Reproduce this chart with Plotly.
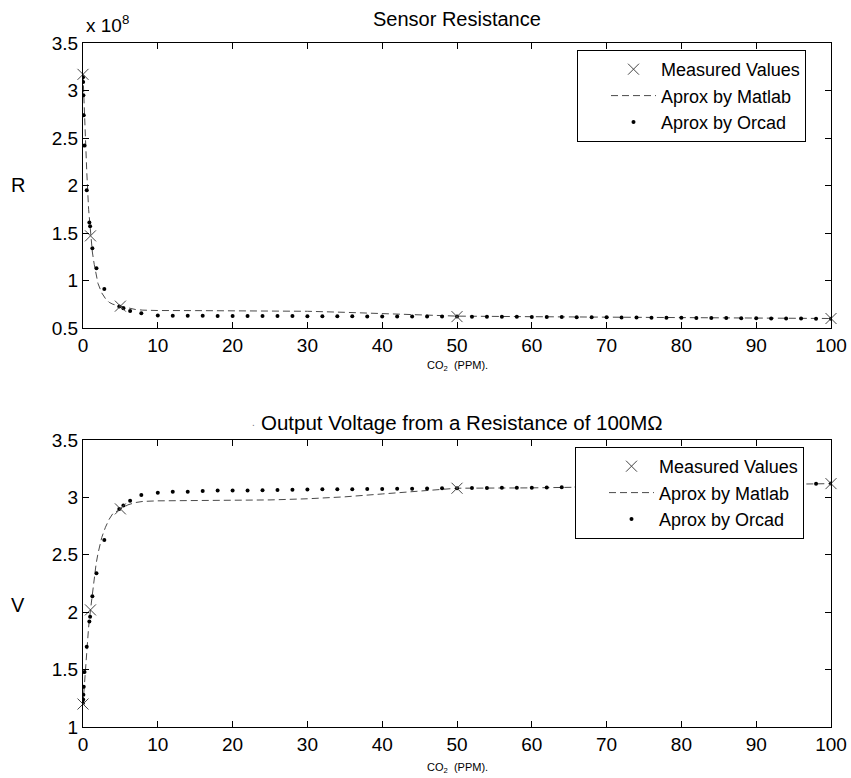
import plotly.graph_objects as go

# ---------------- data ----------------
meas_x = [0, 1, 5, 50, 100]
meas_R = [3.17e8, 1.47e8, 0.73e8, 0.62e8, 0.60e8]
meas_V = [1.20, 2.02, 2.90, 3.08, 3.12]

matlab_x = [0, 0.25, 0.5, 0.75, 1, 1.25, 1.5, 1.75, 2, 2.5, 3, 3.5, 4, 5, 6, 7, 8,
            10, 15, 20, 25, 30, 35, 40, 45, 50, 60, 70, 80, 90, 100]
matlab_R = [3.17e8, 2.60e8, 2.15e8, 1.75e8, 1.47e8, 1.30e8, 1.17e8, 1.05e8, 0.97e8,
            0.87e8, 0.81e8, 0.77e8, 0.75e8, 0.73e8, 0.71e8, 0.695e8, 0.688e8,
            0.684e8, 0.683e8, 0.683e8, 0.681e8, 0.676e8, 0.665e8, 0.652e8, 0.638e8,
            0.625e8, 0.619e8, 0.614e8, 0.609e8, 0.604e8, 0.600e8]
matlab_V = [1.20, 1.45, 1.68, 1.87, 2.02, 2.16, 2.30, 2.42, 2.51, 2.65, 2.74, 2.81,
            2.86, 2.90, 2.935, 2.955, 2.965, 2.970, 2.972, 2.974, 2.978, 2.988, 3.005,
            3.03, 3.055, 3.08, 3.083, 3.09, 3.10, 3.11, 3.12]

orcad_x = [0, 0.02, 0.05, 0.1, 0.2, 0.5, 0.85, 0.95, 1.25, 1.8, 2.85, 4.85, 5.4, 6.3, 7.8,
           10, 12, 14, 16, 18, 20, 22, 24, 26, 28, 30, 32, 34, 36, 38, 40, 42, 44, 46, 48,
           50, 52, 54, 56, 58, 60, 62, 64, 66, 68, 70, 72, 74, 76, 78, 80, 82, 84, 86, 88,
           90, 92, 94, 96, 98, 100]
orcad_R = [3.14e8, 3.09e8, 2.95e8, 2.74e8, 2.42e8, 1.95e8, 1.61e8, 1.57e8, 1.34e8, 1.13e8,
           0.91e8, 0.725e8, 0.708e8, 0.68e8, 0.655e8,
           0.632e8, 0.630e8, 0.629e8, 0.628e8, 0.627e8, 0.627e8, 0.626e8, 0.626e8, 0.625e8,
           0.625e8, 0.624e8, 0.624e8, 0.623e8, 0.623e8, 0.622e8, 0.622e8, 0.621e8, 0.621e8,
           0.620e8, 0.620e8, 0.620e8, 0.619e8, 0.619e8, 0.618e8, 0.618e8, 0.617e8, 0.616e8,
           0.615e8, 0.614e8, 0.613e8, 0.612e8, 0.611e8, 0.610e8, 0.609e8, 0.608e8, 0.607e8,
           0.606e8, 0.605e8, 0.604e8, 0.603e8, 0.602e8, 0.601e8, 0.600e8, 0.599e8, 0.598e8,
           0.597e8]
orcad_V = [1.21, 1.24, 1.28, 1.35, 1.48, 1.70, 1.92, 1.96, 2.14, 2.34, 2.63, 2.90, 2.93,
           2.97, 3.02,
           3.04, 3.05, 3.05, 3.055, 3.06, 3.06, 3.06, 3.062, 3.064, 3.066, 3.068, 3.07,
           3.071, 3.072, 3.073, 3.074, 3.075, 3.076, 3.078, 3.079, 3.08, 3.081, 3.082,
           3.083, 3.084, 3.085, 3.087, 3.089, 3.091, 3.093, 3.095, 3.097, 3.099, 3.101,
           3.103, 3.105, 3.107, 3.108, 3.109, 3.11, 3.112, 3.114, 3.115, 3.117, 3.118, 3.12]

x_ticks = [0, 10, 20, 30, 40, 50, 60, 70, 80, 90, 100]
R_ticks = [0.5e8, 1e8, 1.5e8, 2e8, 2.5e8, 3e8, 3.5e8]
R_ticktext = ["0.5", "1", "1.5", "2", "2.5", "3", "3.5"]
V_ticks = [1, 1.5, 2, 2.5, 3, 3.5]
V_ticktext = ["1", "1.5", "2", "2.5", "3", "3.5"]

# ---------------- layout helpers ----------------
W, H = 851, 778
ML, MR, MT, MB = 83, 20, 42, 51
PW, PH = W - ML - MR, H - MT - MB


def py(p):
    return (H - MB - p) / PH


def px(p):
    return (p - ML) / PW


FONT = "Liberation Sans, Arial, sans-serif"

fig = go.Figure()

for i, (yv_m, yv_l, yv_o) in enumerate([(meas_R, matlab_R, orcad_R), (meas_V, matlab_V, orcad_V)]):
    xa = "x" if i == 0 else "x2"
    ya = "y" if i == 0 else "y2"
    lg = "legend" if i == 0 else "legend2"
    fig.add_trace(go.Scatter(
        x=matlab_x, y=yv_l, mode="lines", name="Aprox by Matlab",
        line=dict(color="#4a4a4a", width=1, dash="7px,4px"),
        xaxis=xa, yaxis=ya, legend=lg, legendrank=2))
    fig.add_trace(go.Scatter(
        x=orcad_x, y=yv_o, mode="markers", name="Aprox by Orcad",
        marker=dict(symbol="circle", size=4, color="black"),
        xaxis=xa, yaxis=ya, legend=lg, legendrank=3))
    fig.add_trace(go.Scatter(
        x=meas_x, y=yv_m, mode="markers", name="Measured Values",
        marker=dict(symbol="x-thin-open", size=11, color="#444444",
                    line=dict(width=1, color="#444444")),
        xaxis=xa, yaxis=ya, legend=lg, legendrank=1, cliponaxis=False))

axis_common = dict(showline=True, linecolor="black", linewidth=1, mirror="ticks",
                   ticks="inside", ticklen=6, tickcolor="black", showgrid=False,
                   zeroline=False, automargin=False,
                   tickfont=dict(family=FONT, size=19, color="black"))

legend_common = dict(xanchor="left", yanchor="top", bgcolor="white",
                     bordercolor="black", borderwidth=1, indentation=28, itemwidth=45,
                     font=dict(family=FONT, size=18, color="black"))

fig.update_layout(
    width=W, height=H,
    margin=dict(l=ML, r=MR, t=MT, b=MB, autoexpand=False),
    paper_bgcolor="white", plot_bgcolor="white",
    font=dict(family=FONT, color="black"),
    xaxis=dict(domain=[0, 1], range=[0, 100], tickvals=x_ticks, anchor="y", **axis_common),
    yaxis=dict(domain=[py(328), py(43)], range=[0.5e8, 3.5e8], tickvals=R_ticks,
               ticktext=R_ticktext, anchor="x", **axis_common),
    xaxis2=dict(domain=[0, 1], range=[0, 100], tickvals=x_ticks, anchor="y2", **axis_common),
    yaxis2=dict(domain=[0, py(440)], range=[1, 3.5], tickvals=V_ticks,
                ticktext=V_ticktext, anchor="x2", **axis_common),
    legend=dict(x=px(577), y=py(50), **legend_common),
    legend2=dict(x=px(575), y=py(447), **legend_common),
    showlegend=True,
)

ann = [
    dict(text="Sensor Resistance", x=0.5, y=py(19), size=20),
    dict(text="Output Voltage from a Resistance of 100M\u03a9", x=px(462), y=py(422), size=20.5),
    dict(text="CO<sub>2</sub>  (PPM).", x=0.5, y=py(366), size=11),
    dict(text="CO<sub>2</sub>  (PPM).", x=0.5, y=py(768), size=11),
    dict(text="R", x=px(18), y=py(185), size=20),
    dict(text="V", x=px(18), y=py(605), size=20),
]
for a in ann:
    fig.add_annotation(text=a["text"], x=a["x"], y=a["y"], xref="paper", yref="paper",
                       xanchor="center", yanchor="middle", showarrow=False,
                       font=dict(family=FONT, size=a["size"], color="black"))

fig.add_annotation(text="x 10<sup>8</sup>", x=px(84), y=py(24), xref="paper", yref="paper",
                   xanchor="left", yanchor="middle", showarrow=False,
                   font=dict(family=FONT, size=19, color="black"))
fig.add_annotation(text=".", x=px(253), y=py(423), xref="paper", yref="paper",
                   xanchor="center", yanchor="middle", showarrow=False, bgcolor="rgba(0,0,0,0)",
                   font=dict(family=FONT, size=10, color="#777777"))

fig.write_html("out.html")
